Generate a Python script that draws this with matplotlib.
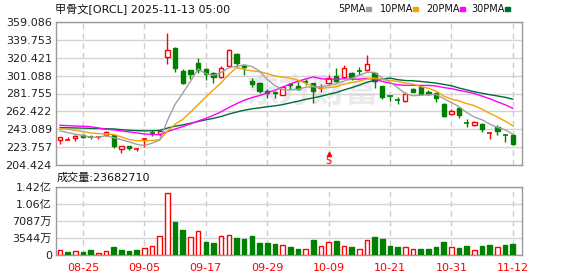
import matplotlib
matplotlib.use('Agg')
import matplotlib.pyplot as plt
import matplotlib.transforms as mtransforms
import numpy as np

plt.rcParams['font.family'] = ['DejaVu Sans', 'Noto Sans CJK SC']

# ORCL daily candles, 2025-08-20 .. 2025-11-12 (60 sessions)
opens = [231.9, 231.8, 234.0, 237.3, 235.0, 234.3, 236.6, 237.3, 222.2, 224.7,
         221.3, 232.1, 239.5, 238.4, 320.9, 331.0, 306.1, 307.2, 315.1, 307.9,
         303.6, 300.0, 311.5, 324.5, 311.9, 295.3, 293.2, 284.8, 283.8, 280.2,
         292.0, 290.2, 294.8, 292.8, 287.8, 292.8, 300.7, 300.0, 304.3, 306.2,
         307.2, 304.3, 289.9, 279.2, 275.3, 273.7, 286.7, 288.5, 283.8, 282.0,
         270.1, 259.3, 265.8, 250.5, 247.8, 248.5, 239.3, 245.6, 237.4, 236.9]
highs = [234.8, 235.1, 237.3, 238.4, 236.6, 235.6, 241.3, 238.0, 225.0, 225.0,
         223.2, 234.0, 242.4, 242.4, 347.5, 331.7, 308.3, 307.5, 320.5, 309.4,
         305.4, 311.5, 329.6, 325.9, 313.4, 298.2, 294.6, 286.7, 284.3, 289.9,
         293.6, 294.0, 297.2, 293.5, 292.1, 301.8, 309.0, 312.6, 305.5, 310.8,
         323.4, 305.5, 290.3, 280.2, 278.4, 283.1, 287.5, 289.6, 285.9, 283.1,
         271.2, 265.1, 266.9, 254.3, 252.4, 249.6, 240.3, 247.8, 237.6, 237.6]
lows = [227.5, 231.6, 230.8, 234.0, 233.0, 233.0, 235.9, 223.2, 217.8, 220.4,
        219.3, 224.3, 236.2, 236.2, 313.4, 305.4, 292.0, 297.8, 303.6, 296.4,
        293.5, 298.2, 310.8, 309.0, 301.8, 289.2, 282.0, 277.3, 276.6, 279.8,
        286.9, 285.3, 291.0, 271.2, 283.8, 292.0, 294.6, 299.0, 296.4, 301.8,
        306.0, 288.1, 275.9, 273.7, 270.2, 273.0, 283.1, 280.2, 280.2, 272.3,
        256.7, 258.6, 255.7, 245.9, 247.1, 239.9, 232.6, 237.0, 229.1, 226.1]
closes = [234.5, 232.0, 236.2, 235.1, 234.6, 234.6, 239.9, 225.4, 224.7, 222.6,
          221.6, 232.5, 238.9, 241.3, 328.8, 309.0, 292.8, 303.2, 307.5, 302.9,
          300.0, 309.0, 328.5, 315.1, 310.8, 291.7, 284.5, 282.7, 282.0, 288.5,
          291.2, 286.7, 294.4, 284.5, 288.3, 298.2, 295.6, 309.0, 299.3, 305.8,
          313.4, 295.3, 278.4, 278.6, 274.8, 280.9, 283.8, 281.3, 281.3, 276.6,
          257.8, 263.2, 258.6, 250.0, 251.3, 243.4, 239.7, 241.3, 236.8, 227.2]

ma5 = [241.3, 239.5, 237.7, 236.2, 234.5, 234.5, 236.1, 233.9, 231.8, 229.4,
       226.8, 225.4, 228.1, 231.4, 252.6, 270.1, 282.2, 295.0, 308.3, 303.1,
       301.3, 304.5, 309.6, 311.1, 312.7, 311.0, 306.1, 297.0, 290.3, 285.9,
       285.8, 286.2, 288.6, 289.1, 289.0, 290.4, 292.2, 295.1, 298.1, 301.6,
       304.6, 304.6, 298.4, 294.3, 288.1, 281.6, 279.3, 279.9, 280.4, 280.8,
       276.2, 272.0, 267.5, 261.2, 256.2, 253.3, 248.6, 245.1, 242.5, 237.7]
ma10 = [243.8, 243.1, 242.0, 240.5, 239.1, 238.4, 238.0, 237.3, 234.8, 232.0,
        230.7, 230.7, 231.0, 231.6, 241.0, 248.5, 253.8, 261.5, 269.8, 277.9,
        285.7, 293.3, 302.3, 309.7, 307.9, 306.2, 305.3, 303.3, 300.7, 299.3,
        298.4, 296.2, 292.8, 289.7, 287.5, 288.1, 289.2, 291.8, 293.6, 295.3,
        297.5, 298.4, 296.8, 296.2, 294.8, 293.1, 291.9, 289.2, 287.4, 284.4,
        278.9, 275.7, 273.7, 270.8, 268.5, 264.7, 260.3, 256.3, 251.9, 246.9]
ma20 = [247.4, 247.0, 246.6, 246.3, 245.9, 244.5, 243.1, 242.4, 241.3, 240.2,
        239.1, 238.0, 237.4, 237.3, 240.6, 243.3, 246.0, 248.9, 252.0, 254.9,
        258.2, 262.0, 266.7, 270.7, 274.5, 277.3, 279.5, 282.4, 285.3, 288.6,
        292.1, 294.8, 297.5, 299.7, 297.7, 297.1, 297.3, 297.6, 297.2, 297.3,
        298.0, 297.3, 294.8, 293.0, 291.2, 290.6, 290.6, 290.5, 290.5, 289.9,
        288.2, 287.0, 285.2, 283.5, 281.7, 278.9, 276.1, 272.7, 269.6, 265.7]
ma30 = [244.9, 244.7, 244.5, 244.3, 244.1, 243.9, 243.6, 243.4, 242.6, 242.0,
        241.6, 241.4, 241.4, 241.8, 244.4, 246.4, 247.8, 249.6, 251.5, 253.3,
        254.9, 256.9, 259.5, 261.7, 263.7, 265.1, 266.3, 267.4, 268.4, 269.7,
        271.6, 273.4, 275.4, 277.0, 278.8, 280.9, 282.8, 285.6, 288.0, 290.8,
        293.9, 296.0, 297.3, 298.5, 296.7, 295.8, 295.5, 294.8, 293.9, 293.0,
        291.6, 290.1, 287.7, 285.6, 283.6, 282.0, 280.5, 279.1, 277.6, 275.6]

# volume in units of 10k shares; vol_up: 1 = red hollow bar, 0 = green
volume = [1023, 614, 818, 614, 1023, 409, 750, 1637, 1023, 818,
          1023, 1364, 1773, 4024, 13026, 6956, 5115, 3819, 5047, 2728,
          2455, 4024, 4228, 3478, 3274, 3887, 2455, 2455, 2250, 2182,
          1637, 1228, 1228, 3069, 1773, 2660, 2864, 1978, 1637, 1159,
          3206, 3683, 3274, 1841, 1637, 1569, 1159, 1228, 1228, 1637,
          2660, 1569, 1432, 1841, 1023, 1841, 2046, 1637, 2046, 2368.271]
vol_up = [1, 0, 1, 0, 0, 1, 1, 0, 0, 0, 0, 1, 1, 1, 1, 0, 0, 1, 1, 0,
          0, 1, 1, 0, 0, 0, 0, 0, 0, 1, 0, 0, 1, 0, 1, 1, 0, 1, 0, 1,
          1, 0, 0, 0, 0, 1, 1, 0, 0, 0, 0, 1, 0, 0, 1, 0, 0, 1, 0, 0]

date_pos = [3, 11, 19, 27, 35, 43, 51, 59]
date_labels = ['08-25', '09-05', '09-17', '09-29', '10-09', '10-21', '10-31', '11-12']
price_ticks = [204.424, 223.757, 243.089, 262.422, 281.755, 301.088, 320.421, 339.753, 359.086]
vol_ticks = [0, 3.544e7, 7.087e7, 1.063e8, 1.4175e8]
vol_tick_labels = ['0', '3544万', '7087万', '1.06亿', '1.42亿']

RED = '#ff0000'
GREEN = '#008000'
GRID = '#d3d3d3'
FRAME = '#9a9a9a'

W, H = 578, 276
fig = plt.figure(figsize=(W / 100, H / 100), dpi=100)


def rect(l, t, r, b):
    return [l / W, 1 - b / H, (r - l) / W, (b - t) / H]


ax = fig.add_axes(rect(56, 22, 522, 165))
axv = fig.add_axes(rect(56, 187, 522, 255))

x = np.arange(len(closes))
o = np.array(opens)
c = np.array(closes)

for a in (ax, axv):
    for s in a.spines.values():
        s.set_color(FRAME)
        s.set_linewidth(1)
    for p in date_pos:
        a.axvline(p, color='#cccccc', lw=1, ls=(0, (4, 3)), zorder=0)
    a.set_xlim(-0.52, 60.2)
    a.tick_params(length=0, labelsize=8, colors='#222222')

# price panel
ax.set_ylim(price_ticks[0], price_ticks[-1])
ax.set_yticks(price_ticks)
ax.set_yticklabels(['%.3f' % t for t in price_ticks])
ax.grid(axis='y', color=GRID, lw=1, zorder=0)
ax.set_xticks([])
ax.tick_params(axis='y', pad=3)

ax.text(0.55, 0.5, '东方财富', transform=ax.transAxes, fontsize=24, fontweight='bold',
        color='#e9e9ee', ha='center', va='center', zorder=0.5)

up = c >= o
col = np.where(up, RED, GREEN)
ax.vlines(x, lows, highs, colors=col, lw=1, zorder=2)
body = np.abs(c - o)
flat = body < 0.6
ax.bar(x[~flat], body[~flat], bottom=np.minimum(o, c)[~flat], width=0.56,
       facecolor=np.where(up, 'white', GREEN)[~flat], edgecolor=col[~flat], lw=1, zorder=3)
ax.hlines(((o + c) / 2)[flat], x[flat] - 0.33, x[flat] + 0.33, colors=col[flat], lw=1.2, zorder=3)

ax.plot(x, ma30, color='#006a35', lw=1, zorder=4)
ax.plot(x, ma20, color='#ff00ff', lw=1, zorder=4)
ax.plot(x, ma10, color='#f5a300', lw=1, zorder=4)
ax.plot(x, ma5, color='#a0a0a0', lw=1, zorder=4)

trans = mtransforms.blended_transform_factory(ax.transData, ax.transAxes)
ax.text(35, 0.03, 'S', transform=trans, color=RED, fontsize=7, ha='center', va='center')
ax.plot([35], [0.075], marker='^', ms=3, color=RED, transform=trans, clip_on=False)

# volume panel
vu = np.array(vol_up) == 1
v = np.array(volume) * 1e4
axv.bar(x, v, width=0.6, facecolor=np.where(vu, 'white', GREEN),
        edgecolor=np.where(vu, RED, GREEN), lw=1, zorder=3)
axv.set_ylim(0, vol_ticks[-1])
axv.set_yticks(vol_ticks)
axv.set_yticklabels(vol_tick_labels)
axv.grid(axis='y', color=GRID, lw=1, zorder=0)
axv.set_xticks(date_pos)
axv.set_xticklabels(date_labels, color=RED, fontsize=8)
axv.tick_params(axis='x', pad=6, colors=RED)
axv.tick_params(axis='y', pad=3)

# header texts and legend
fig.text(55 / W, 1 - 9 / H, '甲骨文[ORCL] 2025-11-13 05:00', fontsize=8, va='center', color='#111111')
fig.text(57 / W, 1 - 177.5 / H, '成交量:23682710', fontsize=8, va='center', color='#111111')

legend_items = [('5PMA', 338, 366, '#a0a0a0'), ('10PMA', 380, 413, '#f5a300'),
                ('20PMA', 426, 460, '#ff00ff'), ('30PMA', 471, 505, '#006a35')]
for name, tx, sx, color in legend_items:
    fig.text(tx / W, 1 - 9 / H, name, fontsize=7, va='center', color='#111111')
    fig.patches.append(plt.Rectangle((sx / W, 1 - 10.5 / H), 5 / W, 3 / H,
                                     transform=fig.transFigure, color=color, figure=fig))

fig.savefig('out.png', dpi=100)
